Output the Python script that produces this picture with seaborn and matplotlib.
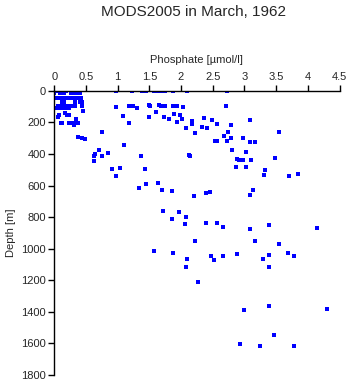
import matplotlib
matplotlib.use("Agg")
import matplotlib.pyplot as plt
import seaborn as sns
import pandas as pd

# Phosphate [umol/l] and depth [m] of the March 1962 casts
phosphate = [
    # surface layer, 0-300 m
    0.02, 0.05, 0.08, 0.11, 0.14, 0.18, 0.26, 0.30, 0.36, 0.38,
    0.00, 0.09, 0.12, 0.16, 0.27, 0.31, 0.35, 0.40,
    0.00, 0.03, 0.06, 0.10, 0.14, 0.18, 0.21, 0.26, 0.32, 0.39, 0.42,
    0.12, 0.15, 0.32, 0.40, 0.44,
    0.06, 0.09, 0.12, 0.15, 0.19, 0.23, 0.28, 0.32, 0.43,
    0.04, 0.07, 0.13, 0.16, 0.20, 0.24,
    0.46, 0.17, 0.08, 0.20, 0.24, 0.06, 0.34,
    0.10, 0.13, 0.24, 0.27, 0.31, 0.34, 0.38, 0.31,
    0.38, 0.44, 0.48,
    # surface values at higher concentrations
    0.97, 1.23, 1.39, 1.44, 1.58, 1.63, 1.68, 1.74, 1.88, 2.10, 2.72,
    # upper thermocline
    0.97, 1.18, 1.24, 1.30, 1.50, 1.51, 1.66, 1.68, 1.75, 1.88, 1.94, 2.03, 2.71,
    1.08, 1.49, 1.61, 1.73, 1.81, 1.89, 1.99, 2.01, 1.94, 1.18,
    2.08, 2.17, 2.18, 2.22, 2.37, 2.49, 2.57, 2.79, 3.09, 2.33, 2.41,
    0.75, 2.74, 2.68, 2.79, 2.98, 3.09, 3.17, 3.55, 2.53, 2.57, 2.73,
    # intermediate depths
    1.10, 0.71, 0.65, 0.63, 0.63, 0.75, 0.85, 0.91, 0.97, 1.03, 1.37, 1.43,
    2.81, 3.03, 2.13, 2.14, 2.88, 2.92, 2.98, 3.11, 3.49, 3.03, 2.87,
    3.33, 3.31, 3.71, 3.85,
    1.33, 1.44, 1.64, 1.70, 1.86, 2.21, 2.40, 2.46, 3.14, 3.09,
    1.72, 1.86, 1.97, 2.08, 2.06, 2.40, 2.57, 2.66, 3.09, 3.39, 4.15,
    # deep water
    2.22, 3.17, 3.55, 1.58, 1.88, 2.10, 2.08, 2.27,
    2.88, 3.38, 3.68, 3.79, 2.47, 2.52, 2.67, 3.30, 3.38,
    3.39, 3.00, 4.31, 3.47, 2.93, 3.25, 3.79,
]
depth = [
    0, 0, 0, 0, 0, 0, 0, 0, 0, 0,
    17, 17, 17, 17, 17, 17, 17, 17,
    44, 44, 44, 44, 44, 44, 44, 44, 44, 44, 44,
    70, 70, 70, 70, 70,
    95, 95, 95, 95, 95, 95, 95, 95, 95,
    110, 110, 110, 110, 110, 110,
    125, 141, 154, 154, 154, 167, 178,
    201, 201, 201, 201, 201, 201, 201, 217,
    293, 300, 305,
    0, 0, 0, 0, 0, 0, 0, 0, 0, 0, 0,
    103, 97, 97, 112, 87, 95, 87, 95, 97, 97, 97, 103, 97,
    160, 169, 137, 163, 178, 148, 154, 180, 198, 205,
    235, 209, 192, 268, 173, 188, 211, 217, 188, 232, 237,
    262, 262, 287, 300, 300, 325, 323, 262, 319, 319, 315,
    342, 374, 401, 414, 446, 414, 395, 497, 541, 486, 416, 497,
    376, 389, 404, 410, 431, 437, 440, 437, 425, 480, 484,
    501, 533, 541, 528,
    613, 588, 581, 628, 636, 668, 649, 638, 630, 661,
    763, 813, 767, 801, 845, 839, 839, 864, 877, 852, 871,
    949, 953, 970, 1014, 1029, 1063, 1118, 1213,
    1035, 1042, 1029, 1048, 1048, 1073, 1048, 1067, 1118,
    1365, 1390, 1384, 1549, 1602, 1615, 1619,
]

x_ticks = [0, 0.5, 1, 1.5, 2, 2.5, 3, 3.5, 4, 4.5]
x_tick_labels = ["0", "0.5", "1", "1.5", "2", "2.5", "3", "3.5", "4", "4.5"]
y_ticks = [0, 200, 400, 600, 800, 1000, 1200, 1400, 1600, 1800]

df = pd.DataFrame({"Phosphate": phosphate, "Depth": depth})

sns.set_style("white")
plt.rcParams["font.family"] = ["Liberation Sans", "DejaVu Sans"]

fig = plt.figure(figsize=(3.5, 3.84), dpi=100)
ax = fig.add_axes([0.155, 0.0235, 0.815, 0.740])

sns.scatterplot(data=df, x="Phosphate", y="Depth", ax=ax, marker="s",
                color="#0000ff", s=5, linewidth=0, legend=False)

ax.set_xlim(0, 4.5)
ax.set_ylim(1800, 0)
ax.xaxis.set_ticks_position("top")
ax.xaxis.set_label_position("top")
ax.set_xticks(x_ticks)
ax.set_xticklabels(x_tick_labels)
ax.set_yticks(y_ticks)
ax.set_yticklabels([str(v) for v in y_ticks])

for side in ["right", "bottom"]:
    ax.spines[side].set_visible(False)
for side in ["left", "top"]:
    ax.spines[side].set_visible(True)
    ax.spines[side].set_color("black")
    ax.spines[side].set_linewidth(1.0)

ax.tick_params(axis="both", direction="out", length=4, width=1.0,
               color="black", labelsize=8, pad=2)
ax.tick_params(axis="x", top=True, bottom=False)
ax.tick_params(axis="y", left=True, right=False)

ax.set_xlabel("Phosphate [\u00b5mol/l]", fontsize=8, labelpad=7)
ax.set_ylabel("Depth [m]", fontsize=8, labelpad=4)

fig.text(0.553, 0.968, "MODS2005 in March, 1962", ha="center", va="center",
         fontsize=11)

fig.savefig("out.png", dpi=100, facecolor="white")
